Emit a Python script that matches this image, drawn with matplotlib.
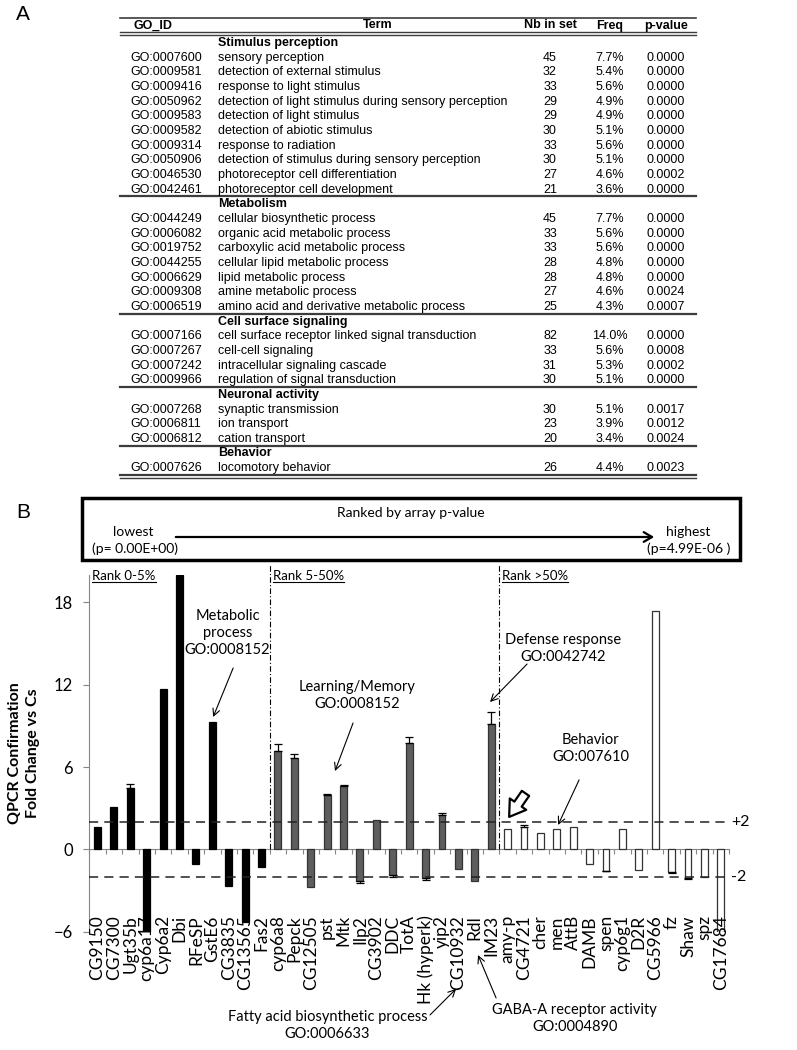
import numpy as np
import matplotlib.pyplot as plt
from matplotlib.patches import Rectangle, FancyArrowPatch
from matplotlib.lines import Line2D

# ---------- panel A: GO term table ----------
section_names = ["Stimulus perception", "Metabolism", "Cell surface signaling",
                 "Neuronal activity", "Behavior"]
section_sizes = [10, 7, 4, 3, 1]
go_ids = ["GO:0007600", "GO:0009581", "GO:0009416", "GO:0050962", "GO:0009583",
          "GO:0009582", "GO:0009314", "GO:0050906", "GO:0046530", "GO:0042461",
          "GO:0044249", "GO:0006082", "GO:0019752", "GO:0044255", "GO:0006629",
          "GO:0009308", "GO:0006519",
          "GO:0007166", "GO:0007267", "GO:0007242", "GO:0009966",
          "GO:0007268", "GO:0006811", "GO:0006812",
          "GO:0007626"]
terms = ["sensory perception", "detection of external stimulus",
         "response to light stimulus",
         "detection of light stimulus during sensory perception",
         "detection of light stimulus", "detection of abiotic stimulus",
         "response to radiation", "detection of stimulus during sensory perception",
         "photoreceptor cell differentiation", "photoreceptor cell development",
         "cellular biosynthetic process", "organic acid metabolic process",
         "carboxylic acid metabolic process", "cellular lipid metabolic process",
         "lipid metabolic process", "amine metabolic process",
         "amino acid and derivative metabolic process",
         "cell surface receptor linked signal transduction", "cell-cell signaling",
         "intracellular signaling cascade", "regulation of signal transduction",
         "synaptic transmission", "ion transport", "cation transport",
         "locomotory behavior"]
nb_in_set = [45, 32, 33, 29, 29, 30, 33, 30, 27, 21,
             45, 33, 33, 28, 28, 27, 25,
             82, 33, 31, 30,
             30, 23, 20,
             26]
freq = ["7.7%", "5.4%", "5.6%", "4.9%", "4.9%", "5.1%", "5.6%", "5.1%", "4.6%", "3.6%",
        "7.7%", "5.6%", "5.6%", "4.8%", "4.8%", "4.6%", "4.3%",
        "14.0%", "5.6%", "5.3%", "5.1%",
        "5.1%", "3.9%", "3.4%",
        "4.4%"]
p_values = ["0.0000", "0.0000", "0.0000", "0.0000", "0.0000", "0.0000", "0.0000",
            "0.0000", "0.0002", "0.0000",
            "0.0000", "0.0000", "0.0000", "0.0000", "0.0000", "0.0024", "0.0007",
            "0.0000", "0.0008", "0.0002", "0.0000",
            "0.0017", "0.0012", "0.0024",
            "0.0023"]

# ---------- panel B: QPCR fold changes ----------
genes = ["CG9150", "CG7300", "Ugt35b", "cyp6a17", "Cyp6a2", "Dbi", "RFeSP", "GstE6",
         "CG3835", "CG13565", "Fas2",
         "cyp6a8", "Pepck", "CG12505", "pst", "Mtk", "Ilp2", "CG3902", "DDC", "TotA",
         "Hk (hyperk)", "yip2", "CG10932", "Rdl", "IM23",
         "amy-p", "CG4721", "cher", "men", "AttB", "DAMB", "spen", "cyp6g1", "D2R",
         "CG5966", "fz", "Shaw", "spz", "CG17684"]
fold_change = [1.6, 3.1, 4.5, -6.0, 11.7, 20.0, -1.1, 9.3, -2.7, -5.3, -1.25,
               7.15, 6.65, -2.75, 4.0, 4.65, -2.3, 2.15, -1.9, 7.75, -2.1, 2.5,
               -1.45, -2.3, 9.15,
               1.45, 1.6, 1.2, 1.45, 1.6, -1.1, -1.55, 1.5, -1.5, 17.4, -1.65,
               -2.1, -2.0, -6.0]
fold_err = [0, 0, 0.3, 0, 0, 0, 0, 0, 0, 0, 0,
            0.5, 0.3, 0, 0.05, 0.05, 0.15, 0, 0.1, 0.45, 0.1, 0.15, 0, 0, 0.9,
            0, 0.15, 0, 0, 0, 0, 0.05, 0, 0, 0, 0.1, 0.05, 0, 0]
rank_sizes = [11, 14, 14]
rank_labels = ["Rank 0-5%", "Rank 5-50%", "Rank >50%"]

W, H = 797, 1050
TF = ['Liberation Sans', 'DejaVu Sans']
CF = ['Lato', 'DejaVu Sans']
LC = '#3c3c3c'
GRAY = '#868686'

fig = plt.figure(figsize=(W / 100, H / 100), dpi=100)
ov = fig.add_axes([0, 0, 1, 1])
ov.set_xlim(0, W)
ov.set_ylim(H, 0)
ov.axis('off')

# ---- table ----
tx0, tx1 = 120, 696
fs = 9
ov.text(23, 15, "A", fontsize=15, family=TF, ha='center', va='center')
ov.plot([tx0, tx1], [18, 18], color=LC, lw=1.2)
for xh, lab in zip([153, 378, 550, 610, 666], ["GO_ID", "Term", "Nb in set", "Freq", "p-value"]):
    ov.text(xh, 25.5, lab, fontsize=fs, family=TF, weight='bold', ha='center', va='center')
ov.plot([tx0, tx1], [32, 32], color=LC, lw=1.0)
ov.plot([tx0, tx1], [34.5, 34.5], color=LC, lw=1.0)

pitch = 14.66
y = 43.0
k = 0
for s, (name, n) in enumerate(zip(section_names, section_sizes)):
    if s > 0:
        ov.plot([tx0, tx1], [y - pitch / 2 - 0.5] * 2, color=LC, lw=1.6)
    ov.text(218, y, name, fontsize=fs, family=TF, weight='bold', va='center')
    y += pitch
    for j in range(n):
        ov.text(130, y, go_ids[k], fontsize=fs, family=TF, va='center')
        ov.text(218, y, terms[k], fontsize=fs, family=TF, va='center')
        ov.text(550, y, str(nb_in_set[k]), fontsize=fs, family=TF, va='center', ha='center')
        ov.text(610, y, freq[k], fontsize=fs, family=TF, va='center', ha='center')
        ov.text(666, y, p_values[k], fontsize=fs, family=TF, va='center', ha='center')
        k += 1
        y += pitch
yb = y - pitch + 7
ov.plot([tx0, tx1], [yb, yb], color=LC, lw=1.6)
ov.plot([tx0, tx1], [yb + 3, yb + 3], color=LC, lw=1.0)

# ---- ranking box ----
ov.text(23, 512, "B", fontsize=15, family=TF, ha='center', va='center')
ov.add_patch(Rectangle((82, 498), 658, 62, fill=False, lw=2.5, ec='black'))
ov.text(411, 513, "Ranked by array p-value", fontsize=10, family=CF, ha='center', va='center')
ov.text(133, 532, "lowest", fontsize=10, family=CF, ha='center', va='center')
ov.text(135, 549, "(p= 0.00E+00)", fontsize=10, family=CF, ha='center', va='center')
ov.text(688, 532, "highest", fontsize=10, family=CF, ha='center', va='center')
ov.text(689, 549, "(p=4.99E-06 )", fontsize=10, family=CF, ha='center', va='center')
ov.add_patch(FancyArrowPatch((173, 537), (657, 537),
                             arrowstyle='->,head_length=6,head_width=3.5',
                             mutation_scale=1, lw=1.6, color='black'))

# ---- bar chart ----
ax = fig.add_axes([89.3 / W, 1 - 931.7 / H, (729 - 89.3) / W, (931.7 - 575) / H])
x = np.arange(len(genes))
grp = np.repeat(np.arange(len(rank_sizes)), rank_sizes)
faces = np.array(['black', '#5e5e5e', 'white'])[grp]
edges = np.array(['black', '#333333', '#333333'])[grp]
vals = np.array(fold_change)
errs = np.array(fold_err)
ax.bar(x, vals, width=0.42, color=faces, edgecolor=edges, lw=0.9, zorder=3)
m = errs > 0
lower = np.where(vals < 0, errs, 0)[m]
upper = np.where(vals > 0, errs, 0)[m]
ax.errorbar(x[m], vals[m], yerr=[lower, upper], fmt='none', ecolor='black',
            elinewidth=0.9, capsize=3, capthick=0.9, zorder=4)

ax.set_xlim(-0.5, len(genes) - 0.5)
ax.set_ylim(-6, 20)
for sp in ['top', 'right']:
    ax.spines[sp].set_visible(False)
ax.spines['bottom'].set_position(('data', 0))
ax.spines['bottom'].set_color(GRAY)
ax.spines['left'].set_color(GRAY)
ax.set_xticks(np.arange(-0.5, len(genes), 1))
ax.set_xticklabels([])
ax.set_yticks([-6, 0, 6, 12, 18])
ax.tick_params(axis='x', direction='out', length=3.5, color=GRAY, width=0.8)
ax.tick_params(axis='y', direction='out', length=4, color=GRAY, width=0.8,
               labelsize=12, pad=8)
for t in ax.get_yticklabels():
    t.set_family(CF)
ax.patch.set_alpha(0)

for i, g in enumerate(genes):
    ax.text(i, -4.8, g, rotation=90, ha='center', va='top', fontsize=12.5,
            family=CF, zorder=6, clip_on=False)

# threshold lines
for lvl, lab in [(2, "+2"), (-2, "-2")]:
    ax.hlines(lvl, -0.5, len(genes) - 0.6, colors='#222222', lw=1.1,
              linestyles=(0, (6, 4)), zorder=5, clip_on=False)
    ax.text(len(genes) - 0.37, lvl, lab, fontsize=11.5, family=CF, va='center', ha='left')

# rank separators and labels
bounds = np.cumsum([0] + rank_sizes) - 0.5
for b in bounds[1:-1]:
    ax.vlines(b, 0, 20.7, colors='black', lw=0.8, linestyles=(0, (5, 2, 1, 2)),
              clip_on=False, zorder=5)
rank_texts = []
for b, lab in zip(bounds[:-1], rank_labels):
    t = ax.text(b + 0.18, 19.62, lab, fontsize=9.5, family=CF, ha='left', va='baseline',
                clip_on=False)
    rank_texts.append(t)

fig.text(24 / W, 1 - 753 / H, "QPCR Confirmation\nFold Change vs Cs", rotation=90,
         ha='center', va='center', multialignment='center', fontsize=11.5,
         weight='bold', family=CF, linespacing=1.4)

# annotations
akw = dict(arrowstyle='->,head_length=0.5,head_width=0.25', lw=0.8, color='black',
           shrinkA=0, shrinkB=0)
tkw = dict(fontsize=10.5, family=CF, ha='center', va='center', linespacing=1.3)
ax.annotate("", xy=(7.05, 9.65), xytext=(8.27, 13.22), arrowprops=akw)
ax.text(7.93, 15.77, "Metabolic\nprocess\nGO:0008152", **tkw)
ax.annotate("", xy=(14.48, 5.71), xytext=(15.58, 9.21), arrowprops=akw)
ax.text(15.82, 11.22, "Learning/Memory\nGO:0008152", **tkw)
ax.annotate("", xy=(23.93, 10.74), xytext=(26.19, 13.51), arrowprops=akw)
ax.text(28.41, 14.64, "Defense response\nGO:0042742", **tkw)
ax.annotate("", xy=(28.08, 1.78), xytext=(29.36, 5.06), arrowprops=akw)
ax.text(30.06, 7.35, "Behavior\nGO:007610", **tkw)
ax.add_patch(FancyArrowPatch((26.19, 4.25), (25.0, 2.2),
                             arrowstyle='simple,head_length=0.7,head_width=0.9,tail_width=0.4',
                             mutation_scale=16, fc='white', ec='black', lw=1.6,
                             zorder=6, clip_on=False))
ax.annotate("", xy=(21.86, -10.17), xytext=(20.27, -12.07), arrowprops=akw,
            annotation_clip=False)
ax.text(14.02, -12.83, "Fatty acid biosynthetic process\nGO:0006633", clip_on=False, **tkw)
ax.annotate("", xy=(23.2, -7.7), xytext=(24.3, -10.83), arrowprops=akw,
            annotation_clip=False)
ax.text(29.09, -12.35, "GABA-A receptor activity\nGO:0004890", clip_on=False, **tkw)

# underline the rank labels
fig.canvas.draw()
r = fig.canvas.get_renderer()
for t in rank_texts:
    bb = t.get_window_extent(r)
    ybase = ax.transData.transform((0, 19.62))[1] - 2
    fig.add_artist(Line2D([bb.x0 / fig.bbox.width, bb.x1 / fig.bbox.width],
                          [ybase / fig.bbox.height] * 2, color='black', lw=0.8))

fig.savefig("out.png", dpi=100)
